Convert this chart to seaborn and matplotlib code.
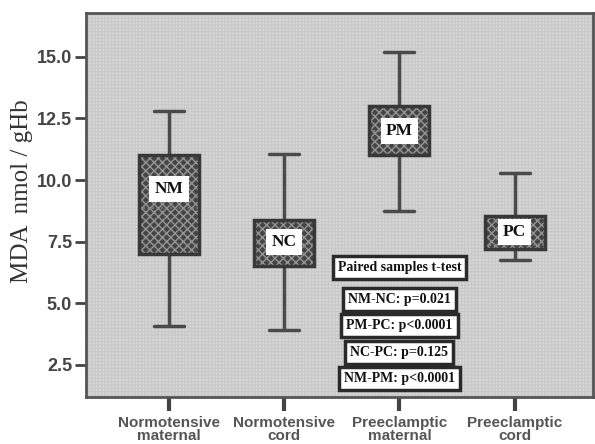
import numpy as np
import pandas as pd
import seaborn as sns
import matplotlib
matplotlib.use("Agg")
import matplotlib.pyplot as plt
from matplotlib.patches import PathPatch

# 四组的五数概括，读图估计
groups = ["Normotensive\nmaternal", "Normotensive\ncord", "Preeclamptic\nmaternal", "Preeclamptic\ncord"]
codes = ["NM", "NC", "PM", "PC"]
whisker_low = [4.1, 3.9, 8.75, 6.75]
q1 = [7.0, 6.5, 11.0, 7.2]
median = [8.85, 7.4, 12.0, 7.35]
q3 = [11.0, 8.4, 13.0, 8.55]
whisker_high = [12.8, 11.05, 15.2, 10.3]
code_y = [9.65, 7.5, 12.0, 7.9]  # 方框里字母的位置

test_title = "Paired samples t-test"
test_lines = ["NM-NC: p=0.021", "PM-PC: p<0.0001", "NC-PC: p=0.125", "NM-PM: p<0.0001"]
test_y = [6.46, 5.17, 4.12, 2.99, 1.97]

# 每组五个点 -> 分位数正好就是这几个值
rows = []
for g, a, b, c, d, e in zip(groups, whisker_low, q1, median, q3, whisker_high):
    for v in (a, b, c, d, e):
        rows.append((g, v))
df = pd.DataFrame(rows, columns=["group", "MDA"])

sns.set_style("white")
plt.rcParams["hatch.linewidth"] = 1.0

fig = plt.figure(figsize=(5.95, 4.44), dpi=100)
ax = fig.add_axes([0.1445, 0.1059, 0.8521, 0.8648])
# 背景的细网格纹
ax.patch.set_facecolor("#d9d9d9")
ax.patch.set_edgecolor("#c9c9c9")
ax.patch.set_hatch("+++++")
ax.patch.set_linewidth(0)

line_c = "#4a4a4a"
sns.boxplot(data=df, x="group", y="MDA", whis=(0, 100), width=0.52, ax=ax,
            color="#454545", linecolor=line_c, linewidth=2.5, fliersize=0,
            medianprops=dict(color="#8a8a8a", linestyle=":", linewidth=1.2))

# 方框里的网纹
for p in list(ax.patches):
    p.set_edgecolor("#959595")
    p.set_hatch("xxxx")
    p.set_linewidth(0)
    ax.add_patch(PathPatch(p.get_path(), transform=p.get_transform(), fill=False,
                           edgecolor="#383838", linewidth=2.5, zorder=p.get_zorder() + 0.1))

for i, (c, y) in enumerate(zip(codes, code_y)):
    ax.text(i, y, c, ha="center", va="center", fontsize=12.5, fontweight="bold",
            family="Liberation Serif", color="#111111", zorder=10,
            bbox=dict(boxstyle="square,pad=0.3", facecolor="white", edgecolor="none"))

for s, y in zip([test_title] + test_lines, test_y):
    ax.text(2, y, s, ha="center", va="center", fontsize=10, fontweight="bold",
            family="Liberation Serif", color="#111111", zorder=10,
            bbox=dict(boxstyle="square,pad=0.36", facecolor="white", edgecolor="#2a2a2a", linewidth=2.5))

ax.set_xlim(-0.72, 3.68)
ax.set_ylim(1.2, 16.78)
ax.set_yticks([2.5, 5.0, 7.5, 10.0, 12.5, 15.0])
ax.set_yticklabels(["2.5", "5.0", "7.5", "10.0", "12.5", "15.0"])
ax.set_xlabel("")
ax.set_ylabel("MDA  nmol / gHb", family="Liberation Serif", fontsize=18, color="#333333")
ax.yaxis.set_label_coords(-0.104, 0.535)

for sp in ax.spines.values():
    sp.set_color("#555555")
    sp.set_linewidth(2)

ax.tick_params(axis="y", left=True, direction="out", length=8, width=2, color="#444444",
               labelsize=13, labelcolor="#444444", pad=2)
ax.tick_params(axis="x", bottom=True, direction="out", length=10, width=3, color="#444444",
               labelsize=11, labelcolor="#555555", pad=4)
for lab in ax.get_yticklabels() + ax.get_xticklabels():
    lab.set_fontweight("bold")
    lab.set_family("Liberation Sans")
for lab in ax.get_xticklabels():
    lab.set_linespacing(0.9)

fig.savefig("out.png", dpi=100)
